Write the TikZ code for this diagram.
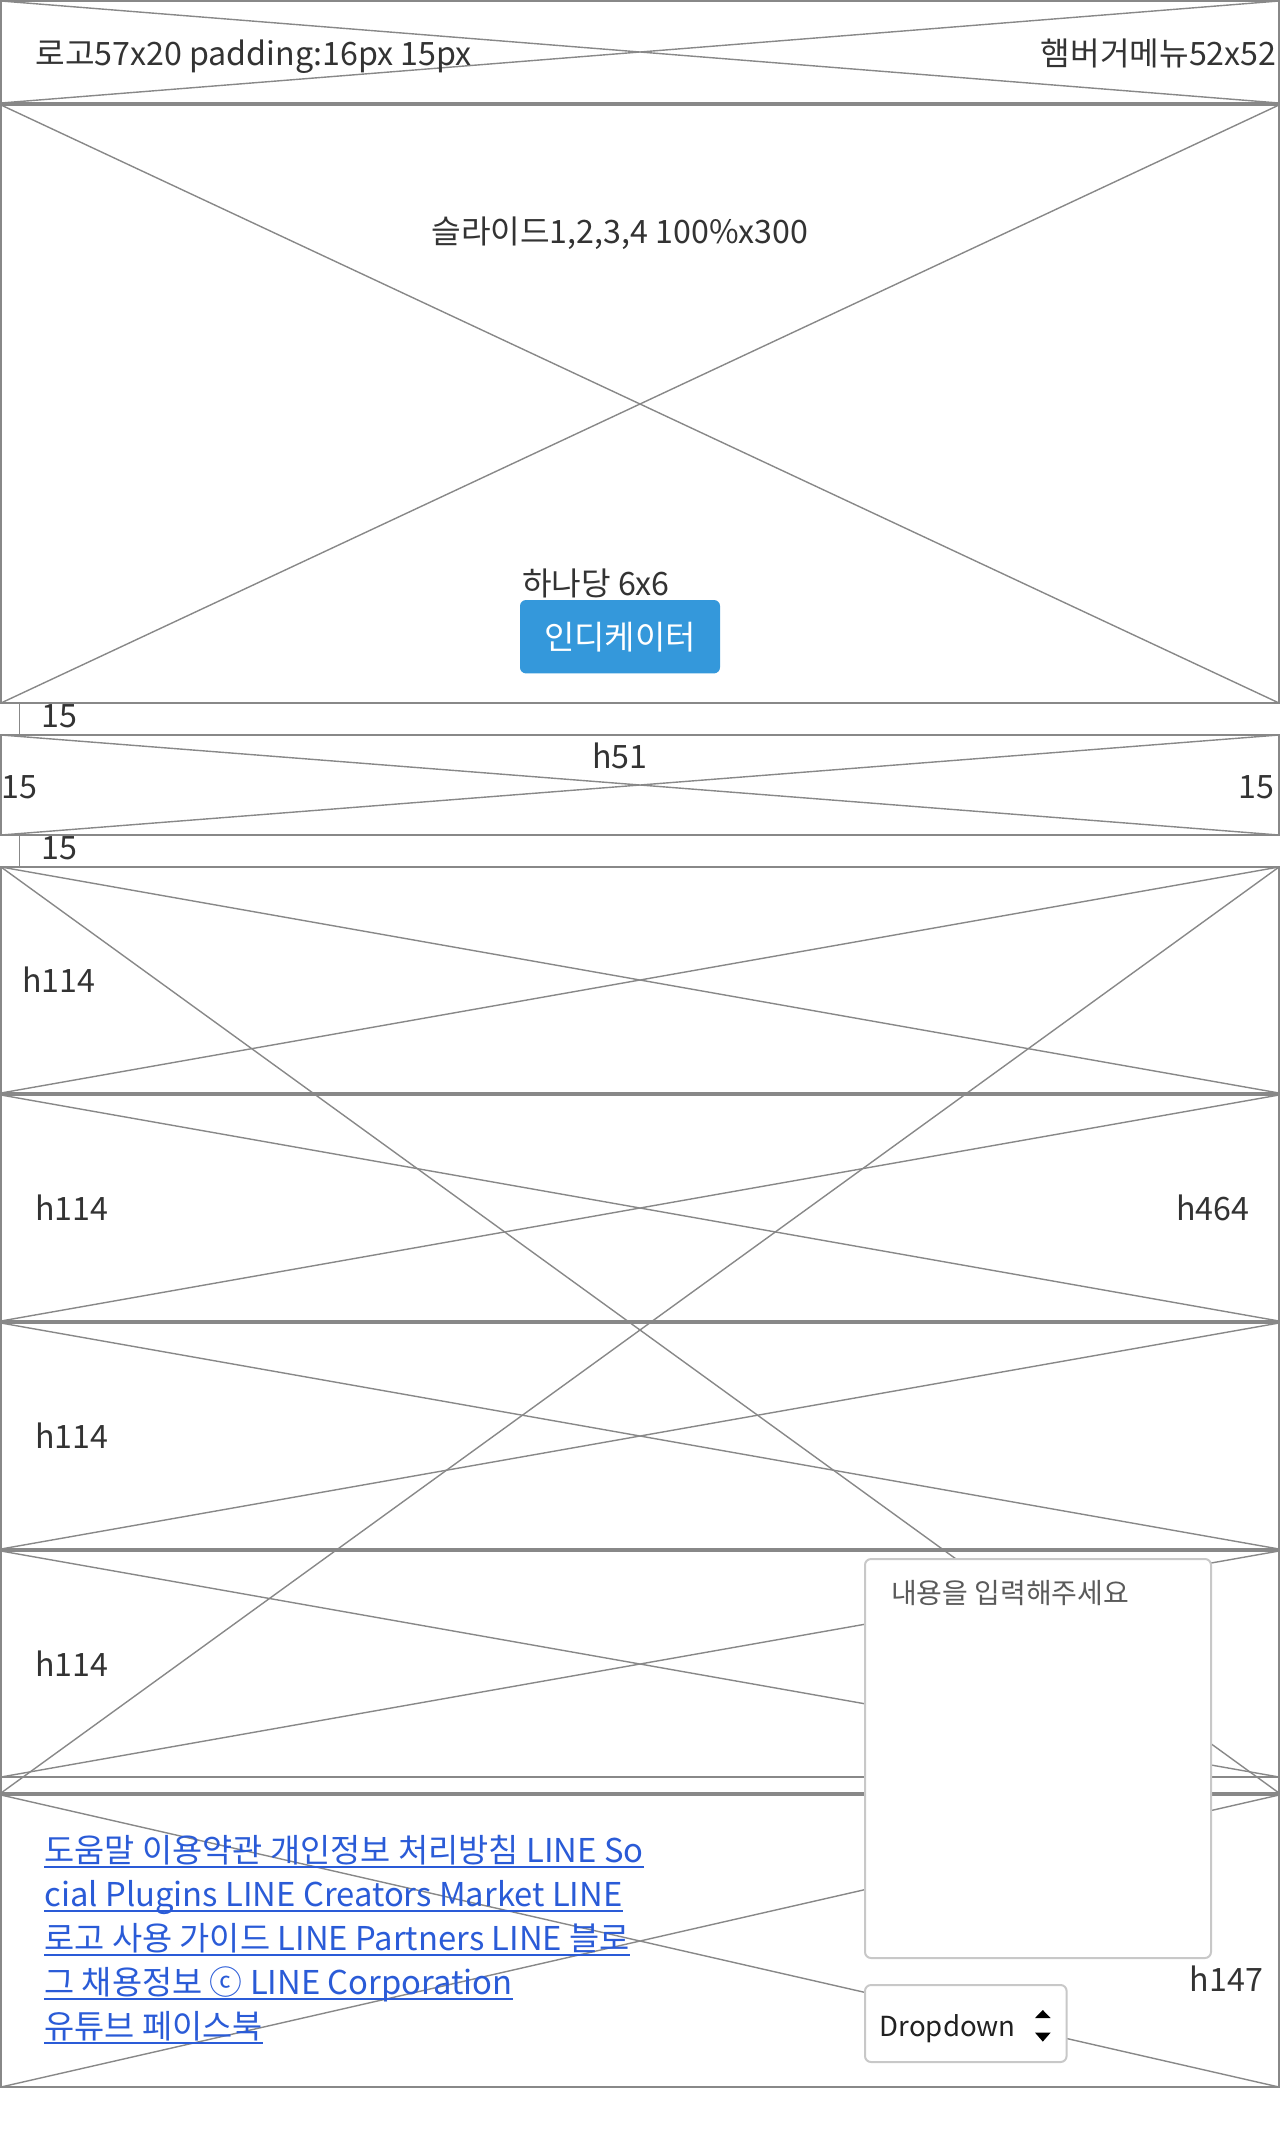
\documentclass[tikz,border=0pt]{standalone}
\usepackage{fontspec}
\setmainfont{Noto Sans CJK KR}
\definecolor{ln}{HTML}{888888}
\definecolor{txt}{HTML}{333333}
\definecolor{lnk}{HTML}{2A5BD7}
\definecolor{fld}{HTML}{C8C8C8}
\definecolor{btn}{HTML}{3498DB}
\definecolor{ph}{HTML}{5A5A5A}
\begin{document}
\begin{tikzpicture}[x=1pt,y=-1pt,
  wire/.style={draw=ln, line width=1pt, outer sep=0pt, inner sep=0pt, minimum width=639pt, anchor=north west},
  diag/.style={draw=ln, line width=0.7pt},
  lbl/.style={text=txt, font=\fontsize{16.1}{19}\selectfont, inner sep=0pt},
  linktext/.style={text=lnk, font=\fontsize{16.4}{19}\selectfont, inner sep=0pt, anchor=base west},
  field/.style={draw=fld, fill=white, line width=1pt, rounded corners=3pt, inner sep=0pt, outer sep=0pt},
  btnbox/.style={fill=btn, rounded corners=3pt, inner sep=0pt, outer sep=0pt, text=white, font=\fontsize{16.5}{20}\selectfont}
]
\useasboundingbox (0,0) rectangle (640,1071);
% header
\node[wire, minimum height=51pt] (hdr) at (0.5,0.5) {};
\draw[diag] (hdr.north west) -- (hdr.south east) (hdr.north east) -- (hdr.south west);
% slide
\node[wire, minimum height=299pt] (sld) at (0.5,52.5) {};
\draw[diag] (sld.north west) -- (sld.south east) (sld.north east) -- (sld.south west);
% h51 box
\node[wire, minimum height=50pt] (bar) at (0.5,367.5) {};
\draw[diag] (bar.north west) -- (bar.south east) (bar.north east) -- (bar.south west);
% spacers
\coordinate (s1a) at (9.8,352);
\coordinate (s1b) at (9.8,367.5);
\coordinate (s2a) at (9.8,418);
\coordinate (s2b) at (9.8,433.5);
\draw[diag] (s1a) -- (s1b) (s2a) -- (s2b);
% big box
\node[wire, minimum height=463pt] (big) at (0.5,433.5) {};
\draw[diag] (big.north west) -- (big.south east) (big.north east) -- (big.south west);
\node[wire, minimum height=113pt] (r1) at (0.5,433.5) {};
\node[wire, minimum height=113pt] (r2) at (0.5,547.5) {};
\node[wire, minimum height=113pt] (r3) at (0.5,661.5) {};
\node[wire, minimum height=113pt] (r4) at (0.5,775.5) {};
\foreach \r in {r1,r2,r3,r4}{
  \draw[diag] (\r.north west) -- (\r.south east) (\r.north east) -- (\r.south west);
}
% footer
\node[wire, minimum height=146pt] (ftr) at (0.5,897.5) {};
\draw[diag] (ftr.north west) -- (ftr.south east) (ftr.north east) -- (ftr.south west);
% textarea and dropdown
\node[field, minimum width=173pt, minimum height=199.5pt] (ta) at (519,879.25) {};
\node[field, minimum width=100.8pt, minimum height=38.5pt] (dd) at (482.9,1011.75) {};
\node[anchor=base west, inner sep=0pt, text=ph, font=\fontsize{14}{17}\selectfont] (tap) at (445.3,801.5) {내용을 입력해주세요};
\node[anchor=base west, inner sep=0pt, text=black!87, font=\fontsize{13.8}{16}\selectfont] (ddt) at (439.7,1018.3) {Dropdown};
\fill[black] (517.5,1009) -- (525.3,1009) -- (521.4,1005) -- cycle;
\fill[black] (517.5,1016.3) -- (525.3,1016.3) -- (521.4,1020.8) -- cycle;
% header texts
\node[lbl, anchor=base west] (logo) at (17.5,32.5) {로고57x20 padding:16px 15px};
\node[lbl, anchor=base east] (menu) at (638.5,32.5) {햄버거메뉴52x52};
% slide texts
\node[lbl, anchor=base west] (sldt) at (215.5,121.5) {슬라이드1,2,3,4 100\%x300};
\node[lbl, anchor=base west] (dot) at (260.8,297.5) {하나당 6x6};
\node[btnbox, minimum width=100pt, minimum height=36.7pt] (ind) at (310,318.35) {인디케이터};
% spacer texts
\node[lbl, anchor=base west] (sp1) at (20.4,363.7) {15};
\node[lbl, anchor=base west] (sp2) at (20.4,429.5) {15};
% h51 texts
\node[lbl, anchor=base] (h51) at (310,384.3) {h51};
\node[lbl, anchor=base west] (pl) at (0.8,399) {15};
\node[lbl, anchor=base west] (pr) at (619,399) {15};
% row labels
\node[lbl, anchor=base west] (l1) at (11,496) {h114};
\node[lbl, anchor=base west] (l2) at (17.5,610) {h114};
\node[lbl, anchor=base west] (l3) at (17.5,724) {h114};
\node[lbl, anchor=base west] (l4) at (17.5,838) {h114};
\node[lbl, anchor=base west] (l464) at (588,610) {h464};
\node[lbl, anchor=base west] (l147) at (594.7,995.8) {h147};
% footer links
\node[linktext] (k1) at (22,931) {도움말 이용약관 개인정보 처리방침 LINE So};
\node[linktext] (k2) at (22,953) {cial Plugins LINE Creators Market LINE~};
\node[linktext] (k3) at (22,975) {로고 사용 가이드 LINE Partners LINE 블로};
\node[linktext] (k4) at (22,997) {그 채용정보 ⓒ LINE Corporation};
\node[linktext] (k5) at (22,1019) {유튜브 페이스북};
\foreach \k in {k1,k2,k3,k4,k5}{
  \draw[draw=lnk, line width=1pt] ([yshift=-2.3pt]\k.base west) -- ([yshift=-2.3pt]\k.base east);
}
\end{tikzpicture}
\end{document}
